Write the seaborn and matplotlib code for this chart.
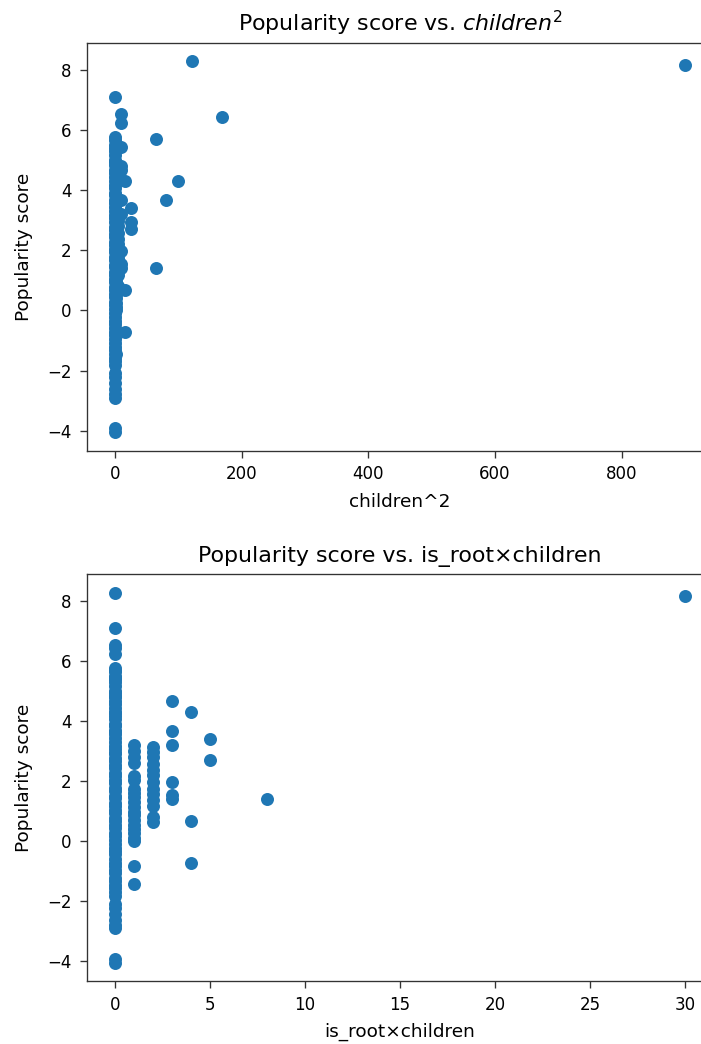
import numpy as np
import pandas as pd
import matplotlib
matplotlib.use("Agg")
import matplotlib.pyplot as plt
import seaborn as sns

# ---- data ----
# root posts that have children
root_children = [30, 8, 5, 5, 4, 4, 4,
                 3, 3, 3, 3, 3, 3,
                 2, 2, 2, 2, 2, 2, 2, 2, 2, 2, 2, 2, 2,
                 1, 1, 1, 1, 1, 1, 1, 1, 1, 1, 1, 1, 1, 1, 1, 1, 1, 1, 1, 1, 1]
root_scores = [8.16, 1.41, 3.41, 2.72, 4.30, 0.69, -0.72,
               4.67, 3.69, 3.22, 1.99, 1.55, 1.42,
               3.14, 2.98, 2.81, 2.59, 2.36, 2.20, 1.97, 1.75, 1.58, 1.36, 1.19, 0.80, 0.64,
               3.22, 3.02, 2.80, 2.62, 2.16, 2.05, 1.75, 1.60, 1.46, 1.31, 1.14, 0.98, 0.86,
               0.70, 0.55, 0.40, 0.26, 0.10, 0.01, -0.83, -1.44]

# non-root posts that have children
nonroot_children = [11, 13, 8, 10, 9, 5, 3, 3, 3, 3]
nonroot_scores = [8.29, 6.43, 5.69, 4.30, 3.67, 2.95, 6.55, 6.25, 5.45, 4.80]

# posts without children
leaf_scores = [7.11, 5.78, 5.66, 5.52, 5.40, 5.31, 5.18, 5.02, 4.93, 4.85, 4.68, 4.57,
               4.44, 4.29, 4.17, 4.06, 3.91, 3.83, 3.66, 3.57, 3.43, 3.31, 3.16, 3.07,
               2.93, 2.78, 2.69, 2.53, 2.44, 2.28, 2.19, 2.04, 1.93, 1.77, 1.69, 1.52,
               1.44, 1.27, 1.18, 1.03, 0.94, 0.78, 0.69, 0.53, 0.44, 0.27, 0.18, 0.04,
               -0.09, -0.21, -0.34, -0.44, -0.59, -0.71, -0.82, -0.96, -1.07, -1.22,
               -1.31, -1.46, -1.57, -1.69, -1.83, -2.08, -2.22, -2.43, -2.61, -2.78,
               -2.90, -3.92, -4.05]

children = root_children + nonroot_children + [0] * len(leaf_scores)
is_root = [1] * len(root_children) + [0] * len(nonroot_children) + [0] * len(leaf_scores)
scores = root_scores + nonroot_scores + leaf_scores

df = pd.DataFrame({"children": children, "is_root": is_root, "score": scores})
df["children_sq"] = df["children"] ** 2
df["root_x_children"] = df["is_root"] * df["children"]

# ---- figure ----
W, H, DPI = 701, 1044, 120
plt.rcParams["font.family"] = ["DejaVu Sans"]
fig = plt.figure(figsize=(W / DPI, H / DPI), dpi=DPI)

ax1 = fig.add_axes([86.5 / W, 1 - 450.7 / H, 627 / W, 408 / H])
ax2 = fig.add_axes([86.5 / W, 1 - 981.3 / H, 627 / W, 407.3 / H])

blue = "#1f77b4"
TITLE_FS, LABEL_FS, TICK_FS = 13.3, 11.1, 10

sns.scatterplot(data=df, x="children_sq", y="score", ax=ax1, color=blue,
                s=46, edgecolor=blue, linewidth=1.0, alpha=1)
ax1.set_title("Popularity score vs. $children^2$", fontsize=TITLE_FS, pad=7)
ax1.set_xlabel("children^2", fontsize=LABEL_FS, labelpad=5.5)
ax1.set_ylabel("Popularity score", fontsize=LABEL_FS, labelpad=8.5)

sns.scatterplot(data=df, x="root_x_children", y="score", ax=ax2, color=blue,
                s=46, edgecolor=blue, linewidth=1.0, alpha=1)
ax2.set_title("Popularity score vs. is_root\u00d7children", fontsize=TITLE_FS, pad=7)
ax2.set_xlabel("is_root\u00d7children", fontsize=LABEL_FS, labelpad=5.5)
ax2.set_ylabel("Popularity score", fontsize=LABEL_FS, labelpad=8.5)

for ax in (ax1, ax2):
    ax.set_yticks([-4, -2, 0, 2, 4, 6, 8])
    ax.tick_params(labelsize=TICK_FS, length=4.2, pad=4.6, color="#333333")
    for sp in ax.spines.values():
        sp.set_color("#333333")

ax1.set_xticks([0, 200, 400, 600, 800])
ax2.set_xticks([0, 5, 10, 15, 20, 25, 30])

fig.savefig("out.png", dpi=DPI)
